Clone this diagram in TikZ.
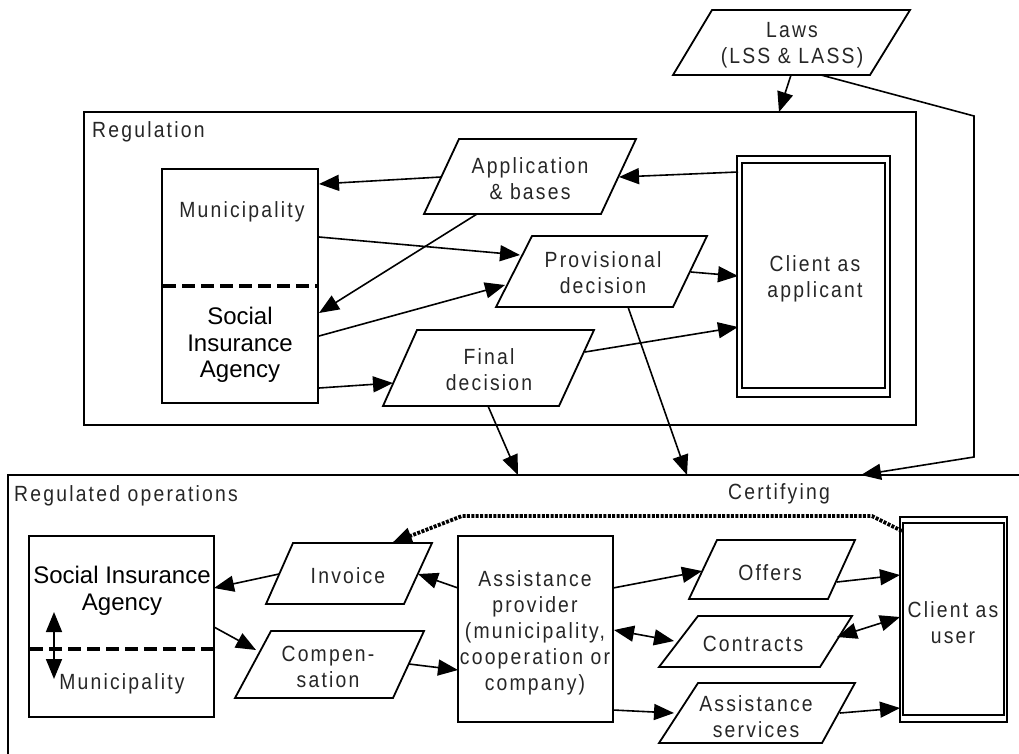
\documentclass[tikz,border=0pt]{standalone}
\usepackage{fontspec}
\setmainfont{Liberation Sans}
\newfontfamily\spacedfont[FakeStretch=0.88,LetterSpace=10]{Liberation Sans}
\usetikzlibrary{arrows.meta}

\begin{document}
\begin{tikzpicture}[x=1pt,y=-1pt,
  outline/.style={line width=1.8pt, line join=miter},
  box/.style={draw, outline, inner sep=0pt, outer sep=0pt},
  arr/.style={line width=1.6pt, -{Triangle[length=20pt,width=16pt]}},
  darr/.style={line width=1.6pt, {Triangle[length=20pt,width=16pt]}-{Triangle[length=20pt,width=16pt]}},
  lbl/.style={font=\spacedfont\fontsize{22}{26}\selectfont, text=black!85, align=center, inner sep=0pt},
  plainlbl/.style={font=\fontsize{24}{26.5}\selectfont, align=center, inner sep=0pt},
  separator/.style={line width=4pt, dash pattern=on 13pt off 6pt},
  certline/.style={line width=3.8pt, dash pattern=on 3pt off 1.4pt, line join=round}]

\useasboundingbox (0,0) rectangle (1019,753);
\fill[white] (0,0) rectangle (1019,753);

% ---------- Laws ----------
\draw[outline] (712,10) -- (910,10) -- (870,75) -- (673,75) -- cycle;
\node[lbl] (laws) at (792,45) {Laws\\(LSS \& LASS)};

% ---------- Regulation ----------
\node[box, minimum width=832pt, minimum height=313pt] (reg) at (500,268.5) {};
\node[lbl, anchor=west] (reglbl) at (92,132) {Regulation};

\node[box, minimum width=156pt, minimum height=234pt] (mun) at (240,286) {};
\draw[separator] (163,286) -- (318,286);
\node[lbl] (muntxt) at (242,212) {Municipality};
\node[plainlbl] (siatxt) at (240,345) {Social\\Insurance\\Agency};

\draw[outline] (459,139) -- (636,139) -- (601,214) -- (424,214) -- cycle;
\node[lbl] (app) at (530,179) {Application\\\& bases};

\draw[outline] (532,236) -- (707,236) -- (673,307) -- (496,307) -- cycle;
\node[lbl] (prov) at (603,273) {Provisional\\decision};

\draw[outline] (417,330) -- (594,330) -- (559,406) -- (383,406) -- cycle;
\node[lbl] (final) at (489,370) {Final\\decision};

\node[box, minimum width=153pt, minimum height=241pt] (cliapp) at (813.5,276.5) {};
\node[box, minimum width=143pt, minimum height=225pt] (cliappin) at (813.5,275.5) {};
\node[lbl] (cliapptxt) at (815,279) {Client as\\applicant};

% ---------- Regulated operations ----------
\draw[outline] (8,760) -- (8,475) -- (1030,475);
\node[lbl, anchor=west] (opslbl) at (14,496) {Regulated operations};
\node[lbl] (cert) at (779,494) {Certifying};

\node[box, minimum width=185pt, minimum height=181pt] (sia) at (121.5,626.5) {};
\draw[separator] (30,649) -- (213,649);
\node[plainlbl] (siatxt2) at (122,591) {Social Insurance\\Agency};
\node[lbl] (muntxt2) at (122,684) {Municipality};

\draw[outline] (293,543) -- (432,543) -- (404,604) -- (266,604) -- cycle;
\node[lbl] (inv) at (348,576) {Invoice};

\draw[outline] (271,631) -- (424,631) -- (393,698) -- (235,698) -- cycle;
\node[lbl] (comp) at (328,667) {Compen-\\sation};

\node[box, minimum width=155pt, minimum height=186pt] (ap) at (535.5,629) {};
\node[lbl] (aptxt) at (535,633) {Assistance\\provider\\(municipality,\\cooperation or\\company)};

\draw[outline] (717,540) -- (855,540) -- (828,599) -- (689,599) -- cycle;
\node[lbl] (offers) at (770,573) {Offers};

\draw[outline] (698,616) -- (852,616) -- (820,667) -- (659,667) -- cycle;
\node[lbl] (contracts) at (753,644) {Contracts};

\draw[outline] (698,683) -- (855,683) -- (822,743) -- (659,743) -- cycle;
\node[lbl] (services) at (756,717) {Assistance\\services};

\node[box, minimum width=107pt, minimum height=205pt] (cliuser) at (953.5,619.5) {};
\node[box, minimum width=101pt, minimum height=192pt] (cliuserin) at (953.5,619) {};
\node[lbl] (cliusertxt) at (953,623) {Client as\\user};

% ---------- connector end points ----------
\coordinate (lawsA) at (791,75);   \coordinate (regTop) at (779,112);
\coordinate (lawsB) at (821,75);   \coordinate (bendA) at (974,116);
\coordinate (bendB) at (974,457);  \coordinate (opsTopC) at (861,475);
\coordinate (cliA) at (738,172);   \coordinate (appR) at (619,177);
\coordinate (appL) at (441,177);   \coordinate (munA) at (319,184);
\coordinate (appB) at (477,214);   \coordinate (siaA) at (319,313);
\coordinate (munB) at (319,237);   \coordinate (provA) at (520,255);
\coordinate (siaB) at (319,336);   \coordinate (provB) at (505,285);
\coordinate (siaC) at (319,388);   \coordinate (finalA) at (393,383);
\coordinate (provR) at (691,272);  \coordinate (cliB) at (738,276);
\coordinate (finalR) at (585,352); \coordinate (cliC) at (738,327);
\coordinate (finalB) at (488,406); \coordinate (opsTopA) at (518,475);
\coordinate (provBot) at (628,307);\coordinate (opsTopB) at (687,475);

\coordinate (invL) at (279,574);   \coordinate (siaD) at (214,588);
\coordinate (siaE) at (214,627);   \coordinate (compA) at (256,650);
\coordinate (compR) at (409,664);  \coordinate (apA) at (458,670);
\coordinate (apB) at (458,588);    \coordinate (invR) at (418,574);
\coordinate (apC) at (613,588);    \coordinate (offL) at (702,571);
\coordinate (offR) at (837,582);   \coordinate (cuA) at (900,575);
\coordinate (apD) at (614,630);    \coordinate (conL) at (674,641);
\coordinate (conR) at (837,637);   \coordinate (cuB) at (900,617);
\coordinate (apE) at (613,710);    \coordinate (serL) at (674,713);
\coordinate (serR) at (840,713);   \coordinate (cuC) at (900,708);
\coordinate (cuCorner) at (902,531); \coordinate (certA) at (872,516);
\coordinate (certB) at (462,516);  \coordinate (invTop) at (392,543);
\coordinate (dblTop) at (54,612);  \coordinate (dblBot) at (54,679);

% ---------- connectors ----------
\draw[arr] (lawsA) -- (regTop);
\draw[arr] (lawsB) -- (bendA) -- (bendB) -- (opsTopC);
\draw[arr] (cliA) -- (appR);
\draw[arr] (appL) -- (munA);
\draw[arr] (appB) -- (siaA);
\draw[arr] (munB) -- (provA);
\draw[arr] (siaB) -- (provB);
\draw[arr] (siaC) -- (finalA);
\draw[arr] (provR) -- (cliB);
\draw[arr] (finalR) -- (cliC);
\draw[arr] (finalB) -- (opsTopA);
\draw[arr] (provBot) -- (opsTopB);

\draw[arr] (invL) -- (siaD);
\draw[arr] (siaE) -- (compA);
\draw[arr] (compR) -- (apA);
\draw[arr] (apB) -- (invR);
\draw[arr] (apC) -- (offL);
\draw[arr] (offR) -- (cuA);
\draw[darr] (apD) -- (conL);
\draw[darr] (conR) -- (cuB);
\draw[arr] (apE) -- (serL);
\draw[arr] (serR) -- (cuC);
\draw[darr] (dblTop) -- (dblBot);

% certification link, dotted, ending in a solid tip
\draw[certline, -{Triangle[length=20pt,width=16pt]}] (cuCorner) -- (certA) -- (certB) -- (invTop);
\end{tikzpicture}
\end{document}
